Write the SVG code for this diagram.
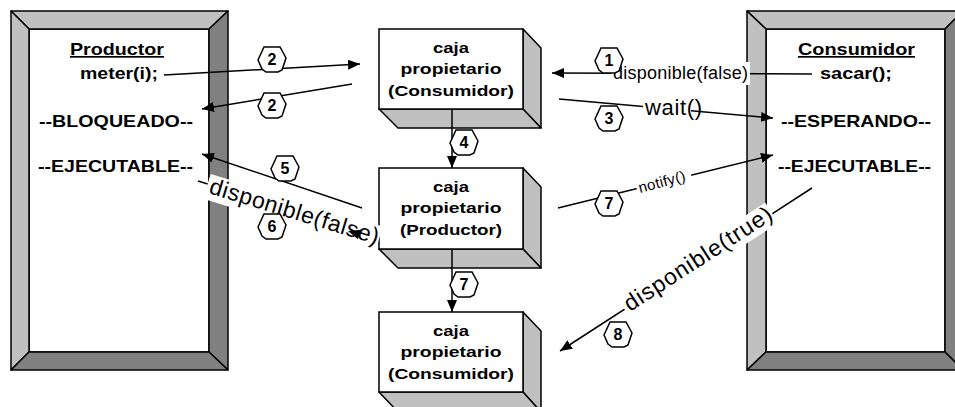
<svg xmlns="http://www.w3.org/2000/svg" xmlns:xlink="http://www.w3.org/1999/xlink" width="955" height="407" viewBox="0 0 955 407">
<style>
.lt{fill:#c0c0c0;stroke:#000;stroke-width:1.5;stroke-linejoin:round}
.dk{fill:#808080;stroke:#000;stroke-width:1.5;stroke-linejoin:round}
.wh{fill:#fff;stroke:#000;stroke-width:1.5}
.b{font-family:"Liberation Sans",Arial,sans-serif;font-weight:bold;fill:#000}
.r{font-family:"Liberation Sans",Arial,sans-serif;fill:#000}
.ft{font-size:17px}
.bx{font-size:15px;text-anchor:middle}
.num{font-size:16px;text-anchor:middle}
.ln{stroke:#000;stroke-width:1.5;fill:none}
.ar{marker-end:url(#ah)}
.bg{fill:#fff}
</style>
<defs>
<marker id="ah" markerUnits="userSpaceOnUse" markerWidth="13" markerHeight="10" refX="12" refY="5" orient="auto">
<path d="M0,0 L12,5 L0,10 z" fill="#000"/>
</marker>
<polygon id="oct" points="-8,-12 8,-12 14,-1 10,11 6,13 -6,13 -10,10 -14,1" fill="#fff" stroke="#000" stroke-width="1.5"/>
</defs>
<rect width="955" height="407" fill="#fff"/>

<g id="productor">
<rect x="29" y="29" width="180" height="323" fill="#fff" stroke="#000" stroke-width="1.5"/>
<polygon class="lt" points="11,11 228,11 209,29 29,29"/>
<polygon class="lt" points="11,11 29,29 29,352 11,370"/>
<polygon class="dk" points="228,11 228,370 209,352 209,29"/>
<polygon class="dk" points="11,370 228,370 209,352 29,352"/>
<text class="b ft" x="117" y="55" text-anchor="middle" text-decoration="underline" textLength="94" lengthAdjust="spacingAndGlyphs">Productor</text>
<text class="b ft" x="119" y="79" text-anchor="middle" textLength="78" lengthAdjust="spacingAndGlyphs">meter(i);</text>
<text class="b ft" x="116" y="127" text-anchor="middle" textLength="154" lengthAdjust="spacingAndGlyphs">--BLOQUEADO--</text>
<text class="b ft" x="115.5" y="172" text-anchor="middle" textLength="155" lengthAdjust="spacingAndGlyphs">--EJECUTABLE--</text>
</g>

<g id="consumidor">
<rect x="766" y="29" width="179" height="323" fill="#fff" stroke="#000" stroke-width="1.5"/>
<polygon class="lt" points="747,11 963,11 945,29 766,29"/>
<polygon class="lt" points="747,11 766,29 766,352 747,370"/>
<polygon class="dk" points="963,11 963,370 945,352 945,29"/>
<polygon class="dk" points="747,370 963,370 945,352 766,352"/>
<text class="b ft" x="856.5" y="55" text-anchor="middle" text-decoration="underline" textLength="117" lengthAdjust="spacingAndGlyphs">Consumidor</text>
<text class="b ft" x="856" y="79" text-anchor="middle" textLength="72" lengthAdjust="spacingAndGlyphs">sacar();</text>
<text class="b ft" x="856" y="127" text-anchor="middle" textLength="150" lengthAdjust="spacingAndGlyphs">--ESPERANDO--</text>
<text class="b ft" x="854.5" y="172" text-anchor="middle" textLength="153" lengthAdjust="spacingAndGlyphs">--EJECUTABLE--</text>
</g>

<g id="caja1">
<polygon class="lt" points="523,29 541,48 541,128 523,109"/>
<polygon class="lt" points="379,109 523,109 541,128 398,128"/>
<rect class="wh" x="379" y="29" width="144" height="80"/>
<text class="b bx" x="451" y="53" textLength="36" lengthAdjust="spacingAndGlyphs">caja</text>
<text class="b bx" x="451" y="74" textLength="101" lengthAdjust="spacingAndGlyphs">propietario</text>
<text class="b bx" x="451" y="96" textLength="126" lengthAdjust="spacingAndGlyphs">(Consumidor)</text>
</g>

<g id="caja2">
<polygon class="lt" points="523,168 541,187 541,268 523,249"/>
<polygon class="lt" points="379,249 523,249 541,268 398,268"/>
<rect class="wh" x="379" y="168" width="144" height="81"/>
<text class="b bx" x="451" y="192" textLength="36" lengthAdjust="spacingAndGlyphs">caja</text>
<text class="b bx" x="451" y="213" textLength="101" lengthAdjust="spacingAndGlyphs">propietario</text>
<text class="b bx" x="451" y="235" textLength="102" lengthAdjust="spacingAndGlyphs">(Productor)</text>
</g>

<g id="caja3">
<polygon class="lt" points="523,312 541,331 541,412 523,392"/>
<polygon class="lt" points="379,392 523,392 541,412 398,412"/>
<rect class="wh" x="379" y="312" width="144" height="80"/>
<text class="b bx" x="451" y="336" textLength="36" lengthAdjust="spacingAndGlyphs">caja</text>
<text class="b bx" x="451" y="357" textLength="101" lengthAdjust="spacingAndGlyphs">propietario</text>
<text class="b bx" x="451" y="379" textLength="126" lengthAdjust="spacingAndGlyphs">(Consumidor)</text>
</g>

<g id="connectors">
<line class="ln ar" x1="164" y1="75" x2="360" y2="64"/>
<line class="ln ar" x1="352" y1="84" x2="202" y2="109"/>
<line class="ln ar" x1="362" y1="208" x2="202" y2="154"/>
<line class="ln" x1="379" y1="237" x2="198" y2="181"/>
<line class="ln ar" x1="812" y1="74" x2="552" y2="73"/>
<line class="ln ar" x1="559" y1="99" x2="773" y2="118"/>
<line class="ln ar" x1="558" y1="208" x2="773" y2="155"/>
<line class="ln ar" x1="812" y1="188" x2="560" y2="351"/>
<line class="ln ar" x1="452" y1="109" x2="452" y2="168"/>
<line class="ln ar" x1="452" y1="249" x2="452" y2="312"/>

<rect class="bg" x="611" y="62" width="139" height="23"/>
<text class="r" x="613" y="79" font-size="18" textLength="135">disponible(false)</text>

<rect class="bg" x="643" y="96" width="48" height="24"/>
<text class="r" x="645" y="115" font-size="22" textLength="57">wait()</text>

<g transform="rotate(-15 640 193)">
<rect class="bg" x="638" y="180" width="56" height="17"/>
<text class="r" x="640" y="193" font-size="15" textLength="48">notify()</text>
</g>

<g transform="rotate(17 208 193)">
<rect class="bg" x="205" y="174" width="180" height="26"/>
<text class="r" x="208" y="193" font-size="23" textLength="176">disponible(false)</text>
</g>
<polygon points="348,231 358,239.3 361,229.7" fill="#000"/>

<g transform="rotate(-33 630 312)">
<rect class="bg" x="627" y="294" width="176" height="24"/>
<text class="r" x="630" y="312" font-size="23" textLength="172">disponible(true)</text>
</g>

<g id="n-labels">
<use xlink:href="#oct" x="272" y="59"/><text class="b num" x="272" y="65">2</text>
<use xlink:href="#oct" x="272" y="105"/><text class="b num" x="272" y="111">2</text>
<use xlink:href="#oct" x="285" y="168"/><text class="b num" x="285" y="174">5</text>
<use xlink:href="#oct" x="272" y="226"/><text class="b num" x="272" y="232">6</text>
<use xlink:href="#oct" x="609" y="60"/><text class="b num" x="609" y="66">1</text>
<use xlink:href="#oct" x="609" y="118"/><text class="b num" x="609" y="124">3</text>
<use xlink:href="#oct" x="464" y="142"/><text class="b num" x="464" y="148">4</text>
<use xlink:href="#oct" x="609" y="203"/><text class="b num" x="609" y="209">7</text>
<use xlink:href="#oct" x="464" y="284"/><text class="b num" x="464" y="290">7</text>
<use xlink:href="#oct" x="618" y="334"/><text class="b num" x="618" y="340">8</text>
</g>
</g>
</svg>
